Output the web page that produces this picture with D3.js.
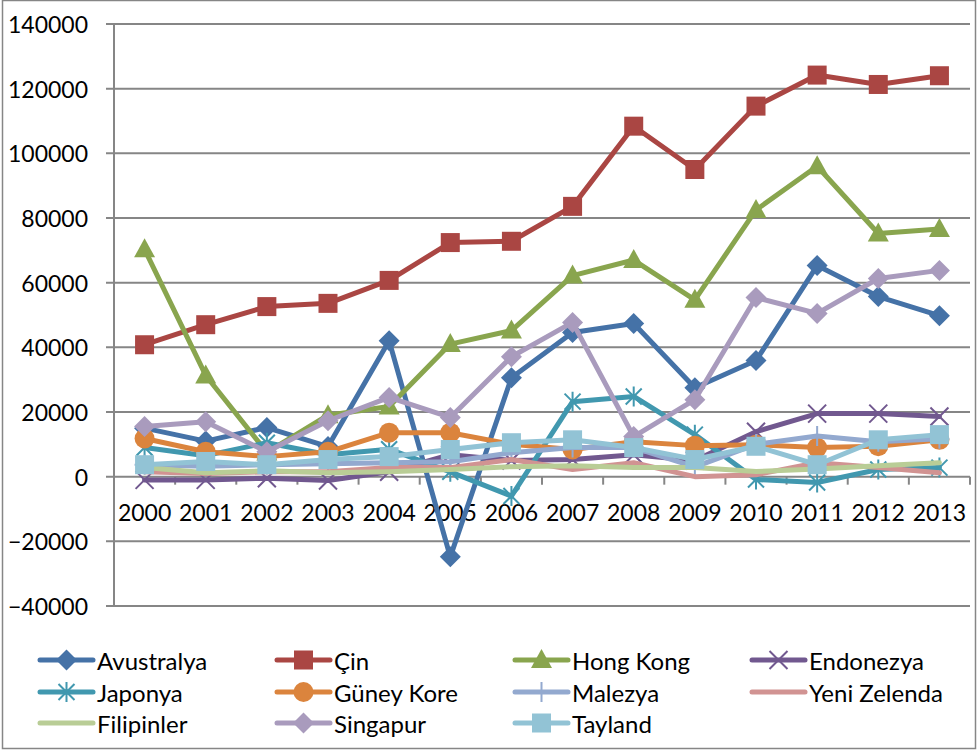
<!DOCTYPE html>
<html>
<head>
<meta charset="utf-8">
<script src="https://cdn.jsdelivr.net/npm/d3@7"></script>
<style>
  body { margin: 0; background: #fff; }
  svg text { font-family: Lato, "Open Sans", sans-serif; fill: #000; }
</style>
</head>
<body>
<svg id="chart" width="977" height="751"></svg>
<script>
// data
var years = ["2000","2001","2002","2003","2004","2005","2006","2007","2008","2009","2010","2011","2012","2013"];
var yTicks = [-40000,-20000,0,20000,40000,60000,80000,100000,120000,140000];

var avustralya  = [15000,11000,15200,9300,42000,-24800,30600,44600,47400,27500,35900,65300,55700,49800];
var cin         = [40800,47000,52600,53600,60700,72400,72800,83600,108400,95000,114600,124200,121300,124000];
var hongKong    = [70300,31300,7500,19000,21700,41000,45200,62200,67000,54700,82500,96000,75200,76600];
var endonezya   = [-1000,-1000,-500,-1200,1500,6800,5000,5300,6800,5000,13900,19500,19500,18600];
var japonya     = [9000,6500,10500,6800,8500,1500,-6000,23200,24800,13000,-900,-1800,2200,2800];
var guneyKore   = [11800,7700,6200,7700,13600,13600,10000,8400,10800,9600,9900,9000,9400,11400];
var malezya     = [3700,3200,3700,4000,4300,4600,7400,9000,9000,3000,10000,12600,10800,11700];
var yeniZelenda = [1500,1000,1500,1500,2800,2800,5300,2200,4300,0,600,4300,2800,1200];
var filipinler  = [2800,1200,1800,1200,1500,2200,3100,3400,2800,2800,1600,2400,3400,4300];
var singapur    = [15500,17000,7700,17300,24500,18300,37100,47700,12400,23800,55400,50500,61300,63800];
var tayland     = [3700,4700,3700,5300,6200,8400,10500,11400,9000,5300,9400,3700,11400,13000];

var seriesNames = ["Avustralya","Çin","Hong Kong","Endonezya","Japonya","Güney Kore","Malezya","Yeni Zelenda","Filipinler","Singapur","Tayland"];
var seriesValues = [avustralya,cin,hongKong,endonezya,japonya,guneyKore,malezya,yeniZelenda,filipinler,singapur,tayland];
var seriesColors = ["#4572A7","#AA4643","#89A54E","#71588F","#4198AF","#DB843D","#93A9CF","#D19392","#B9CD96","#A99BBD","#92C3D5"];
var seriesMarkers = ["diamond","square","triangle","x","star","circle","plus","none","none","diamond","square"];

var svg = d3.select("#chart");
var gridColor = "#868686";

// outer border
svg.append("rect")
  .attr("x", 2.5).attr("y", 0.5).attr("width", 973).attr("height", 748)
  .attr("fill", "none").attr("stroke", gridColor).attr("stroke-width", 1.5);

var x = d3.scaleBand().domain(years).range([114, 970]);
var y = d3.scaleLinear().domain([-40000, 140000]).range([606, 24]);
var cx = function(d) { return x(d) + x.bandwidth() / 2; };

// gridlines
svg.append("g").selectAll("line")
  .data(yTicks).enter().append("line")
  .attr("x1", 106).attr("x2", 970)
  .attr("y1", function(d) { return y(d); })
  .attr("y2", function(d) { return y(d); })
  .attr("stroke", gridColor).attr("stroke-width", 2);

// y axis line + labels
svg.append("line")
  .attr("x1", 114).attr("x2", 114).attr("y1", y(140000)).attr("y2", y(-40000))
  .attr("stroke", gridColor).attr("stroke-width", 2);

svg.append("g").selectAll("text")
  .data(yTicks).enter().append("text")
  .attr("x", 88)
  .attr("y", function(d) { return y(d); })
  .attr("text-anchor", "end")
  .attr("dominant-baseline", "central")
  .style("font-size", "23px")
  .text(function(d) { return d3.format("d")(d); });

// x axis at zero
var bounds = years.map(function(d) { return x(d); }).concat([x.range()[1]]);
svg.append("g").selectAll("line")
  .data(bounds).enter().append("line")
  .attr("x1", function(d) { return d; }).attr("x2", function(d) { return d; })
  .attr("y1", y(0)).attr("y2", y(0) + 8)
  .attr("stroke", gridColor).attr("stroke-width", 2);

svg.append("g").selectAll("text")
  .data(years).enter().append("text")
  .attr("x", cx)
  .attr("y", 512)
  .attr("text-anchor", "middle")
  .attr("dominant-baseline", "central")
  .style("font-size", "23px")
  .text(function(d) { return d; });

// markers
function drawMarker(g, type, color) {
  if (type == "diamond") {
    g.append("path").attr("d", "M0,-10.5L10.5,0L0,10.5L-10.5,0Z").attr("fill", color);
  } else if (type == "square") {
    g.append("rect").attr("x", -9.5).attr("y", -9.5).attr("width", 19).attr("height", 19).attr("fill", color);
  } else if (type == "triangle") {
    g.append("path").attr("d", "M0,-11L10.5,8L-10.5,8Z").attr("fill", color);
  } else if (type == "circle") {
    g.append("circle").attr("r", 10).attr("fill", color);
  } else if (type == "x") {
    g.append("path").attr("d", "M-9,-9L9,9M9,-9L-9,9").attr("stroke", color).attr("stroke-width", 2).attr("fill", "none");
  } else if (type == "star") {
    g.append("path").attr("d", "M-8,-8L8,8M8,-8L-8,8M0,-10L0,10").attr("stroke", color).attr("stroke-width", 2).attr("fill", "none");
  } else if (type == "plus") {
    g.append("path").attr("d", "M0,-10L0,10M-10,0L10,0").attr("stroke", color).attr("stroke-width", 2).attr("fill", "none");
  }
}

var line = d3.line()
  .x(function(d, i) { return cx(years[i]); })
  .y(function(d) { return y(d); });

seriesValues.forEach(function(vals, s) {
  var g = svg.append("g");
  g.append("path")
    .attr("d", line(vals))
    .attr("fill", "none")
    .attr("stroke", seriesColors[s])
    .attr("stroke-width", 5)
    .attr("stroke-linejoin", "round")
    .attr("stroke-linecap", "round");
  vals.forEach(function(v, i) {
    var m = g.append("g").attr("transform", "translate(" + cx(years[i]) + "," + y(v) + ")");
    drawMarker(m, seriesMarkers[s], seriesColors[s]);
  });
});

// legend
var legCols = [38, 275, 513, 750];
var legRows = [660, 692, 723];
seriesNames.forEach(function(name, s) {
  var lx = legCols[s % 4], ly = legRows[Math.floor(s / 4)];
  var g = svg.append("g");
  g.append("line")
    .attr("x1", lx + 2).attr("x2", lx + 55).attr("y1", ly).attr("y2", ly)
    .attr("stroke", seriesColors[s]).attr("stroke-width", 5).attr("stroke-linecap", "round");
  var m = g.append("g").attr("transform", "translate(" + (lx + 28.5) + "," + ly + ")");
  drawMarker(m, seriesMarkers[s], seriesColors[s]);
  g.append("text")
    .attr("x", lx + 59).attr("y", ly)
    .attr("dominant-baseline", "central")
    .style("font-size", "24px")
    .text(name);
});
</script>
</body>
</html>
